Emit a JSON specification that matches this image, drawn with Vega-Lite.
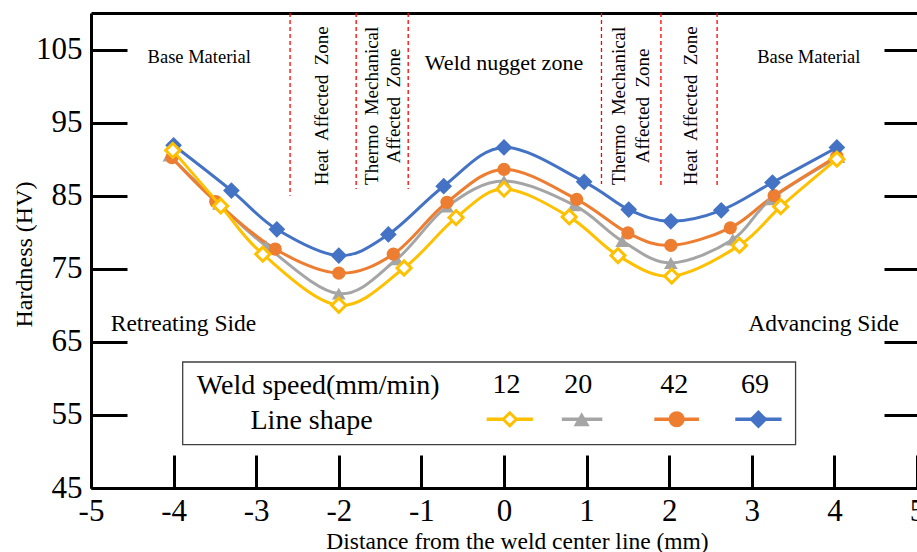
{
  "$schema": "https://vega.github.io/schema/vega-lite/v6.json",
  "width": 826,
  "height": 475,
  "autosize": {"type": "none"},
  "padding": {"left": 91, "top": 13, "right": 0, "bottom": 64},
  "background": "white",
  "config": {
    "font": "Liberation Serif",
    "view": {"stroke": null},
    "axis": {"grid": false},
    "text": {"font": "Liberation Serif", "color": "black"}
  },
  "datasets": {
    "hardness": [
      {"series": "20", "x": -4.05, "y": 90.5},
      {"series": "20", "x": -3.45, "y": 83.9},
      {"series": "20", "x": -2.88, "y": 78.1},
      {"series": "20", "x": -2.0, "y": 71.6},
      {"series": "20", "x": -1.3, "y": 76.3},
      {"series": "20", "x": -0.69, "y": 83.5},
      {"series": "20", "x": 0.0, "y": 87.0},
      {"series": "20", "x": 0.85, "y": 83.7},
      {"series": "20", "x": 1.43, "y": 78.8},
      {"series": "20", "x": 2.02, "y": 75.8},
      {"series": "20", "x": 2.77, "y": 79.0},
      {"series": "20", "x": 3.23, "y": 84.5},
      {"series": "20", "x": 4.05, "y": 90.3},
      {"series": "42", "x": -4.02, "y": 90.2},
      {"series": "42", "x": -3.49, "y": 84.2},
      {"series": "42", "x": -2.77, "y": 77.7},
      {"series": "42", "x": -2.0, "y": 74.4},
      {"series": "42", "x": -1.34, "y": 77.0},
      {"series": "42", "x": -0.69, "y": 84.1},
      {"series": "42", "x": 0.0, "y": 88.6},
      {"series": "42", "x": 0.88, "y": 84.5},
      {"series": "42", "x": 1.5, "y": 79.9},
      {"series": "42", "x": 2.02, "y": 78.2},
      {"series": "42", "x": 2.74, "y": 80.6},
      {"series": "42", "x": 3.27, "y": 85.0},
      {"series": "42", "x": 4.03, "y": 90.4},
      {"series": "69", "x": -4.0, "y": 91.9},
      {"series": "69", "x": -3.3, "y": 85.7},
      {"series": "69", "x": -2.75, "y": 80.4},
      {"series": "69", "x": -2.0, "y": 76.8},
      {"series": "69", "x": -1.4, "y": 79.7},
      {"series": "69", "x": -0.73, "y": 86.3},
      {"series": "69", "x": 0.0, "y": 91.6},
      {"series": "69", "x": 0.97, "y": 86.9},
      {"series": "69", "x": 1.51, "y": 83.1},
      {"series": "69", "x": 2.02, "y": 81.5},
      {"series": "69", "x": 2.63, "y": 83.0},
      {"series": "69", "x": 3.25, "y": 86.8},
      {"series": "69", "x": 4.03, "y": 91.6},
      {"series": "12", "x": -4.01, "y": 91.2},
      {"series": "12", "x": -3.43, "y": 83.6},
      {"series": "12", "x": -2.92, "y": 77.0},
      {"series": "12", "x": -2.0, "y": 70.0},
      {"series": "12", "x": -1.21, "y": 75.1},
      {"series": "12", "x": -0.58, "y": 82.0},
      {"series": "12", "x": 0.0, "y": 85.9},
      {"series": "12", "x": 0.79, "y": 82.1},
      {"series": "12", "x": 1.38, "y": 76.8},
      {"series": "12", "x": 2.03, "y": 74.0},
      {"series": "12", "x": 2.85, "y": 78.2},
      {"series": "12", "x": 3.35, "y": 83.5},
      {"series": "12", "x": 4.03, "y": 90.0}
    ],
    "zones": [
      {"x": -2.59, "yt": 110, "yb": 85.0},
      {"x": -1.79, "yt": 110, "yb": 85.9},
      {"x": -1.16, "yt": 110, "yb": 85.9},
      {"x": 1.18, "yt": 110, "yb": 86.6},
      {"x": 1.9, "yt": 110, "yb": 86.2},
      {"x": 2.58, "yt": 110, "yb": 86.3}
    ],
    "legendItems": [
      {"series": "12", "num": "12", "nx": 0.03, "ny": 57.96, "sx": 0.07, "x0": -0.21, "x1": 0.35, "sy": 54.4},
      {"series": "20", "num": "20", "nx": 0.9, "ny": 57.96, "sx": 0.94, "x0": 0.7, "x1": 1.19, "sy": 54.4},
      {"series": "42", "num": "42", "nx": 2.06, "ny": 57.96, "sx": 2.09, "x0": 1.82, "x1": 2.36, "sy": 54.4},
      {"series": "69", "num": "69", "nx": 3.04, "ny": 57.96, "sx": 3.08, "x0": 2.8, "x1": 3.36, "sy": 54.4}
    ]
  },
  "resolve": {"axis": {"x": "independent", "y": "independent"}},
  "layer": [
    {
      "data": {"name": "zones"},
      "mark": {"type": "rule", "color": "#FF0000", "strokeDash": [4, 3], "strokeWidth": 1.3},
      "encoding": {
        "x": {
          "field": "x", "type": "quantitative",
          "scale": {"domain": [-5, 5], "nice": false, "zero": false},
          "axis": {"orient": "top", "ticks": false, "labels": false, "title": null, "domain": true, "domainWidth": 3, "domainColor": "black", "grid": false}
        },
        "y": {
          "field": "yt", "type": "quantitative",
          "scale": {"domain": [45, 110], "nice": false, "zero": false},
          "axis": {"orient": "right", "values": [55, 65, 75, 85, 95, 105], "tickSize": -33, "tickWidth": 3, "tickColor": "black", "labels": false, "domain": false, "title": null, "grid": false}
        },
        "y2": {"field": "yb"}
      }
    },
    {
      "data": {"name": "hardness"},
      "transform": [{"filter": "datum.series !== '12'"}],
      "mark": {"type": "line", "interpolate": "cardinal", "strokeWidth": 3},
      "encoding": {
        "x": {
          "field": "x", "type": "quantitative",
          "axis": {
            "orient": "bottom", "values": [-5, -4, -3, -2, -1, 0, 1, 2, 3, 4, 5],
            "labelExpr": "datum.value < 0 ? '-' + abs(datum.value) : '' + datum.value",
            "tickSize": -33, "tickWidth": 3, "tickColor": "black",
            "domainWidth": 3, "domainColor": "black",
            "labelFont": "Liberation Serif", "labelFontSize": 31, "labelColor": "black", "labelPadding": 41.5,
            "labelFlush": false, "labelOverlap": false, "labelBound": false,
            "title": "Distance from the weld center line (mm)",
            "titleFont": "Liberation Serif", "titleFontSize": 23.5, "titleFontWeight": "normal", "titleColor": "black",
            "titleX": 426, "titleY": 60, "titleAlign": "center", "titleBaseline": "alphabetic",
            "grid": false
          }
        },
        "y": {
          "field": "y", "type": "quantitative",
          "axis": {
            "orient": "left", "values": [45, 55, 65, 75, 85, 95, 105],
            "tickSize": -36, "tickWidth": 3, "tickColor": "black",
            "domainWidth": 3, "domainColor": "black",
            "labelFont": "Liberation Serif", "labelFontSize": 31, "labelColor": "black", "labelPadding": 45,
            "labelFlush": false, "labelOverlap": false, "labelBound": false,
            "title": "Hardness (HV)",
            "titleFont": "Liberation Serif", "titleFontSize": 24, "titleFontWeight": "normal", "titleColor": "black",
            "titleX": -60, "titleY": 241, "titleAngle": 270, "titleAlign": "center", "titleBaseline": "alphabetic",
            "grid": false
          }
        },
        "color": {
          "field": "series", "type": "nominal",
          "scale": {"domain": ["12", "20", "42", "69"], "range": ["#FFC000", "#A5A5A5", "#ED7D31", "#4472C4"]},
          "legend": null
        }
      }
    },
    {
      "data": {"name": "hardness"},
      "transform": [{"filter": "datum.series !== '12'"}],
      "mark": {"type": "point", "filled": true, "opacity": 1},
      "encoding": {
        "x": {"field": "x", "type": "quantitative", "axis": null},
        "y": {"field": "y", "type": "quantitative", "axis": null},
        "color": {"field": "series", "type": "nominal", "legend": null},
        "shape": {
          "field": "series", "type": "nominal",
          "scale": {"domain": ["12", "20", "42", "69"], "range": ["diamond", "triangle-up", "circle", "diamond"]},
          "legend": null
        },
        "size": {
          "condition": [
            {"test": "datum.series === '69'", "value": 280},
            {"test": "datum.series === '42'", "value": 175}
          ],
          "value": 190
        }
      }
    },
    {
      "data": {"name": "hardness"},
      "transform": [{"filter": "datum.series === '12'"}],
      "mark": {"type": "line", "interpolate": "cardinal", "strokeWidth": 3},
      "encoding": {
        "x": {"field": "x", "type": "quantitative", "axis": null},
        "y": {"field": "y", "type": "quantitative", "axis": null},
        "color": {"field": "series", "type": "nominal", "legend": null}
      }
    },
    {
      "data": {"name": "hardness"},
      "transform": [{"filter": "datum.series === '12'"}],
      "mark": {"type": "point", "shape": "diamond", "filled": false, "fill": "white", "fillOpacity": 1, "opacity": 1, "strokeWidth": 3, "size": 200},
      "encoding": {
        "x": {"field": "x", "type": "quantitative", "axis": null},
        "y": {"field": "y", "type": "quantitative", "axis": null},
        "color": {"field": "series", "type": "nominal", "legend": null}
      }
    },
    {
      "data": {"values": [{"label": "Base Material", "x": -3.69, "y": 103.1}, {"label": "Base Material", "x": 3.69, "y": 103.1}]},
      "mark": {"type": "text", "fontSize": 18.5, "align": "center", "baseline": "alphabetic"},
      "encoding": {
        "x": {"field": "x", "type": "quantitative", "axis": null},
        "y": {"field": "y", "type": "quantitative", "axis": null},
        "text": {"field": "label", "type": "nominal"}
      }
    },
    {
      "data": {"values": [{"label": "Weld nugget zone", "x": 0.0, "y": 102.2}]},
      "mark": {"type": "text", "fontSize": 22, "align": "center", "baseline": "alphabetic"},
      "encoding": {
        "x": {"field": "x", "type": "quantitative", "axis": null},
        "y": {"field": "y", "type": "quantitative", "axis": null},
        "text": {"field": "label", "type": "nominal"}
      }
    },
    {
      "data": {"values": [{"label": "Retreating Side", "x": -3.88, "y": 66.5}, {"label": "Advancing Side", "x": 3.87, "y": 66.5}]},
      "mark": {"type": "text", "fontSize": 23.5, "align": "center", "baseline": "alphabetic"},
      "encoding": {
        "x": {"field": "x", "type": "quantitative", "axis": null},
        "y": {"field": "y", "type": "quantitative", "axis": null},
        "text": {"field": "label", "type": "nominal"}
      }
    },
    {
      "data": {"values": [
        {"label": "Heat\u00a0 Affected\u00a0 Zone", "x": -2.13, "y": 97.3},
        {"label": "Thermo\u00a0 Mechanical", "x": -1.53, "y": 97.3},
        {"label": "Affected\u00a0 Zone", "x": -1.26, "y": 97.3},
        {"label": "Thermo\u00a0 Mechanical", "x": 1.47, "y": 97.3},
        {"label": "Affected\u00a0 Zone", "x": 1.75, "y": 97.3},
        {"label": "Heat\u00a0 Affected\u00a0 Zone", "x": 2.34, "y": 97.3}
      ]},
      "mark": {"type": "text", "fontSize": 19, "angle": 270, "align": "center", "baseline": "alphabetic"},
      "encoding": {
        "x": {"field": "x", "type": "quantitative", "axis": null},
        "y": {"field": "y", "type": "quantitative", "axis": null},
        "text": {"field": "label", "type": "nominal"}
      }
    },
    {
      "data": {"values": [{"x0": -3.89, "x1": 3.53, "y0": 50.93, "y1": 62.24}]},
      "mark": {"type": "rect", "fill": "white", "stroke": "#404040", "strokeWidth": 1.3},
      "encoding": {
        "x": {"field": "x0", "type": "quantitative", "axis": null},
        "x2": {"field": "x1"},
        "y": {"field": "y0", "type": "quantitative", "axis": null},
        "y2": {"field": "y1"}
      }
    },
    {
      "data": {"values": [{"label": "Weld speed(mm/min)", "x": -2.25, "y": 57.82}, {"label": "Line shape", "x": -2.33, "y": 53.12}]},
      "mark": {"type": "text", "fontSize": 28, "align": "center", "baseline": "alphabetic"},
      "encoding": {
        "x": {"field": "x", "type": "quantitative", "axis": null},
        "y": {"field": "y", "type": "quantitative", "axis": null},
        "text": {"field": "label", "type": "nominal"}
      }
    },
    {
      "data": {"name": "legendItems"},
      "mark": {"type": "text", "fontSize": 28, "align": "center", "baseline": "alphabetic"},
      "encoding": {
        "x": {"field": "nx", "type": "quantitative", "axis": null},
        "y": {"field": "ny", "type": "quantitative", "axis": null},
        "text": {"field": "num", "type": "nominal"}
      }
    },
    {
      "data": {"name": "legendItems"},
      "mark": {"type": "rule", "strokeWidth": 3.5},
      "encoding": {
        "x": {"field": "x0", "type": "quantitative", "axis": null},
        "x2": {"field": "x1"},
        "y": {"field": "sy", "type": "quantitative", "axis": null},
        "color": {"field": "series", "type": "nominal", "legend": null}
      }
    },
    {
      "data": {"name": "legendItems"},
      "transform": [{"filter": "datum.series !== '12'"}],
      "mark": {"type": "point", "filled": true, "opacity": 1},
      "encoding": {
        "x": {"field": "sx", "type": "quantitative", "axis": null},
        "y": {"field": "sy", "type": "quantitative", "axis": null},
        "color": {"field": "series", "type": "nominal", "legend": null},
        "shape": {"field": "series", "type": "nominal", "legend": null},
        "size": {
          "condition": [
            {"test": "datum.series === '69'", "value": 340},
            {"test": "datum.series === '42'", "value": 260}
          ],
          "value": 260
        }
      }
    },
    {
      "data": {"name": "legendItems"},
      "transform": [{"filter": "datum.series === '12'"}],
      "mark": {"type": "point", "shape": "diamond", "filled": false, "fill": "white", "fillOpacity": 1, "opacity": 1, "strokeWidth": 3, "size": 170},
      "encoding": {
        "x": {"field": "sx", "type": "quantitative", "axis": null},
        "y": {"field": "sy", "type": "quantitative", "axis": null},
        "color": {"field": "series", "type": "nominal", "legend": null}
      }
    }
  ]
}
